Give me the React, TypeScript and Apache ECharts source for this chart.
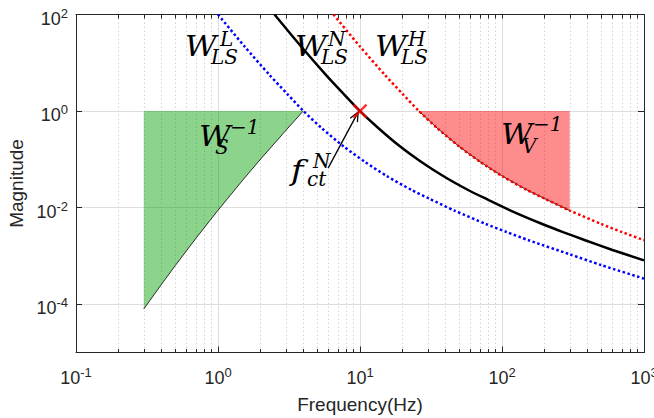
import React, { useEffect, useRef } from 'react';
import * as echarts from 'echarts';

// W_LS^H (red dotted)
const redFreq = [6.5, 10, 15, 20, 26, 35, 50, 70, 100, 150, 200, 300, 500, 700, 1000];
const redMag = [100, 21.7, 5.57, 2.25, 1, 0.442, 0.184, 0.0893, 0.0453, 0.0232, 0.0153, 0.00871, 0.00459, 0.00312, 0.00211];
// W_LS^N (black solid)
const blackFreq = [2.5, 3.85, 5.77, 7.69, 10, 13.5, 19.2, 26.9, 38.5, 57.7, 76.9, 115, 192, 269, 385, 600, 1000];
const blackMag = [100, 21.7, 5.57, 2.25, 1, 0.442, 0.184, 0.0893, 0.0453, 0.0232, 0.0153, 0.00871, 0.00459, 0.00312, 0.00211, 0.00133, 0.00081];
// W_LS^L (blue dotted)
const blueFreq = [1.0, 1.54, 2.31, 3.08, 4, 5.38, 7.69, 10.8, 15.4, 23.1, 30.8, 46.2, 76.9, 108, 154, 300, 500, 1000];
const blueMag = [100, 21.7, 5.57, 2.25, 1, 0.442, 0.184, 0.0893, 0.0453, 0.0232, 0.0153, 0.00871, 0.00459, 0.00312, 0.00211, 0.00108, 0.000646, 0.000339];
// W_S^-1 (green area, lower edge)
const wsFreq = [0.3, 0.4, 0.5, 0.7, 1, 1.5, 2, 3, 3.98];
const wsMag = [7.94e-5, 2.58e-4, 6.31e-4, 2.33e-3, 8.83e-3, 0.0377, 0.102, 0.395, 1];
const wsTop = 1;
// W_V^-1 (red area, lower edge = W_LS^H)
const wvFreq = [26, 35, 50, 70, 100, 150, 200, 300];
const wvMag = [1, 0.442, 0.184, 0.0893, 0.0453, 0.0232, 0.0153, 0.00871];
const wvTop = 1;
// crossover marker and arrow
const crossover = [10, 1];
const arrowTail = [5.96, 0.066];
const arrowTip = [9.7, 0.95];
// tick exponents
const xTickExp = [-1, 0, 1, 2, 3];
const yTickExp = [-4, -2, 0, 2];
const minorMultipliers = [2, 3, 4, 5, 6, 7, 8, 9];

const lg = (v: number) => Math.log10(v);
const pairs = (fs: number[], ms: number[]) => fs.map((f, i) => [lg(f), lg(ms[i])]);

const minorX: number[] = [];
[-1, 0, 1, 2].forEach((e) => minorMultipliers.forEach((m) => minorX.push(lg(m * Math.pow(10, e)))));

const AX = '#262626';
const MATH = '"DejaVu Serif"';
const SANS = '"Liberation Sans", Arial, sans-serif';

function mtext(x: number, baseline: number, text: string, size: number, sx = 1) {
  return {
    type: 'text',
    x,
    y: baseline - 0.3 * size,
    scaleX: sx,
    z: 100,
    style: {
      text,
      fontFamily: MATH,
      fontStyle: 'italic',
      fontSize: size,
      fill: '#000',
      align: 'left',
      verticalAlign: 'middle',
    },
  };
}

const labelRich = {
  b: { fontSize: 18, lineHeight: 24, color: AX, fontFamily: SANS },
  s: { fontSize: 13, lineHeight: 10, verticalAlign: 'top', color: AX, fontFamily: SANS },
};
const expFmt = (v: number) => `{b|10}{s|${Math.round(v)}}`;

export default function App() {
  const ref = useRef<HTMLDivElement>(null);
  useEffect(() => {
    document.body.style.margin = '0';
    if (!ref.current) return;
    const chart = echarts.init(ref.current, undefined, { renderer: 'svg' });

    const greenPoly = [[lg(wsFreq[0]), lg(wsTop)], [lg(wsFreq[wsFreq.length - 1]), lg(wsTop)]]
      .concat(pairs(wsFreq, wsMag).reverse());
    const redPoly = [[lg(wvFreq[0]), lg(wvTop)], [lg(wvFreq[wvFreq.length - 1]), lg(wvTop)]]
      .concat(pairs(wvFreq, wvMag).reverse());

    const polySeries = (poly: number[][], fill: string) => ({
      type: 'custom',
      xAxisIndex: 0,
      yAxisIndex: 0,
      silent: true,
      z: 1,
      clip: true,
      data: [[0, 0]],
      renderItem: (_p: any, api: any) => ({
        type: 'polygon',
        shape: { points: poly.map((p) => api.coord(p)) },
        style: { fill, stroke: 'none' },
      }),
    });

    const curve = (fs: number[], ms: number[], color: string, width: number, type: any, z: number, smooth: number) => ({
      type: 'line', xAxisIndex: 0, yAxisIndex: 0, data: pairs(fs, ms), showSymbol: false,
      smooth,
      lineStyle: { color, width, type }, z, silent: true,
    });

    const option: any = {
      animation: false,
      grid: { left: 76, right: 10, top: 14.5, bottom: 65.5, outerBoundsMode: 'none' },
      xAxis: [
        {
          type: 'value', gridIndex: 0, position: 'bottom', min: -1, max: 3, interval: 1,
          name: 'Frequency(Hz)', nameLocation: 'middle', nameGap: 42,
          nameTextStyle: { fontSize: 19, color: AX, fontFamily: SANS },
          axisLine: { show: true, onZero: false, lineStyle: { color: AX, width: 1 } },
          axisTick: { show: true, inside: true, length: 6, lineStyle: { color: AX } },
          axisLabel: { show: true, margin: 13, formatter: expFmt, rich: labelRich },
          splitLine: { show: true, lineStyle: { color: '#dedede', width: 1 } },
        },
        {
          type: 'value', gridIndex: 0, position: 'bottom', min: -1, max: 3, interval: 1,
          axisLine: { show: false, onZero: false },
          axisTick: { show: true, inside: true, length: 3.5, customValues: minorX, lineStyle: { color: AX } },
          axisLabel: { show: false },
          splitLine: { show: true, lineStyle: { color: '#d4d4d4', width: 1, type: [1.5, 2.5] } },
        },
        {
          type: 'value', gridIndex: 0, position: 'top', min: -1, max: 3, interval: 1,
          axisLine: { show: true, onZero: false, lineStyle: { color: AX, width: 1 } },
          axisTick: { show: true, inside: true, length: 4, customValues: minorX.concat(xTickExp), lineStyle: { color: AX } },
          axisLabel: { show: false },
          splitLine: { show: false },
        },
      ],
      yAxis: [
        {
          type: 'value', gridIndex: 0, position: 'left', min: -5, max: 2, interval: 1,
          name: 'Magnitude', nameLocation: 'middle', nameGap: 47,
          nameTextStyle: { fontSize: 19, color: AX, fontFamily: SANS },
          axisLine: { show: true, onZero: false, lineStyle: { color: AX, width: 1 } },
          axisTick: { show: true, inside: true, length: 6, customValues: yTickExp, lineStyle: { color: AX } },
          axisLabel: { show: true, margin: 8, customValues: yTickExp, formatter: expFmt, rich: labelRich, padding: [8, 0, 0, 0] },
          splitLine: { show: true, lineStyle: { color: '#dedede', width: 1 } },
        },
        {
          type: 'value', gridIndex: 0, position: 'right', min: -5, max: 2, interval: 1,
          axisLine: { show: true, onZero: false, lineStyle: { color: AX, width: 1 } },
          axisTick: { show: true, inside: true, length: 6, customValues: yTickExp, lineStyle: { color: AX } },
          axisLabel: { show: false },
          splitLine: { show: false },
        },
      ],
      series: [
        polySeries(greenPoly, 'rgba(0,160,0,0.45)'),
        polySeries(redPoly, 'rgba(255,0,0,0.45)'),
        curve(wsFreq, wsMag, '#000', 0.8, 'solid', 2, 0),
        curve(wvFreq, wvMag, '#000', 0.8, 'solid', 2, 0),
        curve(blueFreq, blueMag, '#0000ff', 2.5, [2.5, 2.5], 3, 0.25),
        curve(redFreq, redMag, '#ff0000', 2.5, [2.5, 2.5], 3, 0.25),
        curve(blackFreq, blackMag, '#000', 2.5, 'solid', 3, 0.25),
        {
          type: 'custom', xAxisIndex: 0, yAxisIndex: 0, silent: true, z: 4, data: [[0, 0]],
          renderItem: (_p: any, api: any) => {
            const p0 = api.coord([lg(arrowTail[0]), lg(arrowTail[1])]);
            const p1 = api.coord([lg(arrowTip[0]), lg(arrowTip[1])]);
            const ang = Math.atan2(p1[1] - p0[1], p1[0] - p0[0]);
            const L = 10, a = 0.42;
            const w1 = [p1[0] - L * Math.cos(ang - a), p1[1] - L * Math.sin(ang - a)];
            const w2 = [p1[0] - L * Math.cos(ang + a), p1[1] - L * Math.sin(ang + a)];
            return {
              type: 'group',
              children: [
                { type: 'line', shape: { x1: p0[0], y1: p0[1], x2: p1[0], y2: p1[1] }, style: { stroke: '#000', lineWidth: 1.3 } },
                { type: 'polyline', shape: { points: [w1, p1, w2] }, style: { stroke: '#000', fill: 'none', lineWidth: 1.3 } },
              ],
            };
          },
        },
        {
          type: 'scatter', xAxisIndex: 0, yAxisIndex: 0, silent: true, z: 5,
          data: [[lg(crossover[0]), lg(crossover[1])]],
          symbol: 'path://M0,0L10,10M10,0L0,10', symbolSize: 13,
          itemStyle: { color: 'rgba(0,0,0,0)', borderColor: '#ff0000', borderWidth: 2.5 },
        },
      ],
      graphic: [
        mtext(185, 55, 'W', 28, 1.1), mtext(220, 45, 'L', 20), mtext(211, 63, 'LS', 20),
        mtext(295, 55, 'W', 28, 1.1), mtext(328, 45, 'N', 20), mtext(321, 63, 'LS', 20),
        mtext(375, 55, 'W', 28, 1.1), mtext(408, 45, 'H', 20), mtext(401, 63, 'LS', 20),
        mtext(199, 145, 'W', 28, 1.1), mtext(230, 133, '\u22121', 20), mtext(215, 153, 'S', 20),
        mtext(501, 143, 'W', 28, 1.1), mtext(533, 130, '\u22121', 20), mtext(522, 152, 'V', 20),
        mtext(291, 178, 'f', 28, 1.2), mtext(307, 185, 'ct', 20), mtext(313, 167, 'N', 20),
      ],
    };
    chart.setOption(option);
    return () => chart.dispose();
  }, []);
  return <div ref={ref} style={{ width: 654, height: 418 }} />;
}
